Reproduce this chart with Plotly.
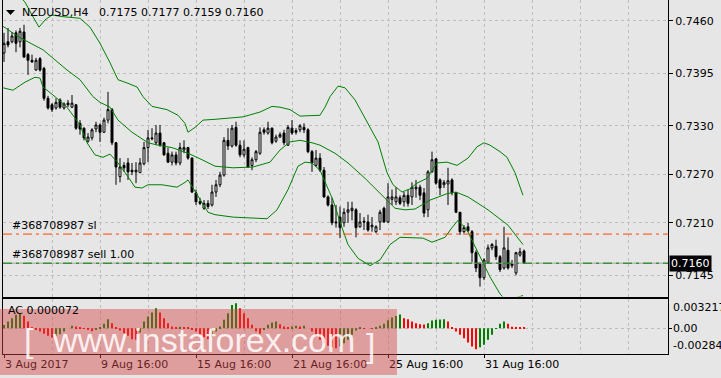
import plotly.graph_objects as go

W, H = 721, 378

# ---------------- data ----------------
opens = [0.7420,0.7434,0.7434,0.7445,0.7434,0.7446,0.7418,0.7411,0.7399,0.7413,
         0.7401,0.7364,0.7356,0.7352,0.7362,0.7352,0.7358,0.7353,0.7356,0.7333,
         0.7327,0.7311,0.7315,0.7326,0.7331,0.7322,0.7337,0.7350,0.7309,0.7267,
         0.7281,0.7284,0.7275,0.7273,0.7272,0.7283,0.7303,0.7315,0.7309,0.7321,
         0.7309,0.7296,0.7285,0.7294,0.7284,0.7300,0.7303,0.7290,0.7247,0.7236,
         0.7228,0.7234,0.7232,0.7248,0.7257,0.7269,0.7312,0.7305,0.7328,0.7306,
         0.7294,0.7303,0.7281,0.7288,0.7296,0.7325,0.7321,0.7327,0.7311,0.7316,
         0.7321,0.7306,0.7327,0.7324,0.7325,0.7328,0.7325,0.7298,0.7281,0.7290,
         0.7275,0.7242,0.7232,0.7211,0.7217,0.7210,0.7223,0.7225,0.7226,0.7205,
         0.7212,0.7211,0.7205,0.7199,0.7211,0.7228,0.7211,0.7239,0.7236,0.7241,
         0.7236,0.7244,0.7242,0.7252,0.7254,0.7247,0.7226,0.7273,0.7289,0.7263,
         0.7257,0.7258,0.7263,0.7247,0.7223,0.7199,0.7205,0.7199,0.7173,0.7160,
         0.7142,0.7161,0.7179,0.7181,0.7168,0.7154,0.7176,0.7157,0.7148,0.7170,
         0.7175]
highs = [0.7445,0.7451,0.7446,0.7448,0.7451,0.7455,0.7420,0.7418,0.7414,0.7415,
         0.7403,0.7367,0.7358,0.7364,0.7364,0.7359,0.7362,0.7368,0.7357,0.7337,
         0.7328,0.7321,0.7327,0.7335,0.7333,0.7340,0.7372,0.7352,0.7310,0.7290,
         0.7285,0.7290,0.7284,0.7285,0.7290,0.7310,0.7325,0.7327,0.7331,0.7331,
         0.7310,0.7303,0.7298,0.7298,0.7309,0.7312,0.7304,0.7291,0.7251,0.7241,
         0.7238,0.7238,0.7257,0.7263,0.7273,0.7316,0.7327,0.7331,0.7335,0.7312,
         0.7312,0.7304,0.7291,0.7300,0.7328,0.7328,0.7335,0.7328,0.7319,0.7322,
         0.7325,0.7331,0.7337,0.7327,0.7332,0.7333,0.7327,0.7300,0.7300,0.7296,
         0.7279,0.7244,0.7241,0.7232,0.7230,0.7228,0.7236,0.7236,0.7228,0.7222,
         0.7217,0.7220,0.7217,0.7207,0.7226,0.7230,0.7259,0.7251,0.7254,0.7244,
         0.7248,0.7251,0.7260,0.7263,0.7257,0.7253,0.7275,0.7298,0.7290,0.7265,
         0.7263,0.7278,0.7265,0.7248,0.7223,0.7207,0.7210,0.7201,0.7176,0.7161,
         0.7166,0.7183,0.7185,0.7189,0.7170,0.7205,0.7192,0.7164,0.7174,0.7179,
         0.7177]
lows = [0.7409,0.7427,0.7432,0.7421,0.7427,0.7414,0.7393,0.7408,0.7398,0.7397,
        0.7361,0.7350,0.7347,0.7350,0.7351,0.7350,0.7353,0.7352,0.7325,0.7319,
        0.7312,0.7309,0.7312,0.7322,0.7310,0.7321,0.7333,0.7306,0.7257,0.7260,
        0.7273,0.7263,0.7269,0.7259,0.7272,0.7281,0.7285,0.7312,0.7306,0.7304,
        0.7293,0.7284,0.7281,0.7281,0.7281,0.7296,0.7288,0.7247,0.7232,0.7232,
        0.7226,0.7227,0.7230,0.7242,0.7254,0.7267,0.7300,0.7303,0.7304,0.7291,
        0.7291,0.7278,0.7275,0.7285,0.7294,0.7319,0.7319,0.7307,0.7309,0.7315,
        0.7306,0.7305,0.7319,0.7319,0.7322,0.7321,0.7296,0.7273,0.7279,0.7273,
        0.7241,0.7230,0.7207,0.7204,0.7191,0.7205,0.7210,0.7213,0.7192,0.7204,
        0.7201,0.7199,0.7199,0.7197,0.7201,0.7210,0.7210,0.7232,0.7232,0.7232,
        0.7230,0.7230,0.7232,0.7241,0.7238,0.7217,0.7217,0.7272,0.7257,0.7244,
        0.7253,0.7232,0.7244,0.7222,0.7195,0.7197,0.7199,0.7161,0.7149,0.7131,
        0.7139,0.7160,0.7176,0.7164,0.7149,0.7152,0.7152,0.7154,0.7145,0.7168,
        0.7159]
closes = [0.7432,0.7430,0.7441,0.7432,0.7447,0.7415,0.7411,0.7409,0.7411,0.7399,
          0.7364,0.7352,0.7350,0.7359,0.7353,0.7357,0.7356,0.7358,0.7327,0.7326,
          0.7315,0.7316,0.7325,0.7331,0.7322,0.7337,0.7350,0.7309,0.7279,0.7279,
          0.7278,0.7273,0.7273,0.7275,0.7284,0.7303,0.7315,0.7314,0.7321,0.7306,
          0.7294,0.7285,0.7294,0.7284,0.7303,0.7303,0.7290,0.7248,0.7236,0.7234,
          0.7234,0.7230,0.7248,0.7257,0.7269,0.7312,0.7305,0.7327,0.7306,0.7294,
          0.7301,0.7279,0.7288,0.7298,0.7322,0.7322,0.7327,0.7309,0.7316,0.7319,
          0.7309,0.7328,0.7321,0.7322,0.7330,0.7325,0.7298,0.7284,0.7290,0.7275,
          0.7242,0.7232,0.7210,0.7210,0.7204,0.7223,0.7226,0.7228,0.7204,0.7211,
          0.7211,0.7201,0.7207,0.7205,0.7223,0.7211,0.7242,0.7242,0.7242,0.7234,
          0.7244,0.7234,0.7254,0.7254,0.7244,0.7222,0.7273,0.7288,0.7259,0.7253,
          0.7260,0.7262,0.7247,0.7223,0.7199,0.7204,0.7200,0.7173,0.7154,0.7142,
          0.7164,0.7179,0.7183,0.7168,0.7152,0.7179,0.7154,0.7159,0.7173,0.7174,
          0.7160]
bar_index = list(range(len(closes)))

# Bollinger bands (read at knots, bar-index units)
up_idx = [-0.25,4,5.25,7,8.75,10.25,12,14.75,19,21.5,24,26.5,28.5,30.75,33.25,34.75,37,40.75,
          43.5,45.25,46,47.75,49.75,52.75,57.25,59.75,64,67,69,71.5,74,79,80.25,81.5,83.5,
          85.25,87.75,90.25,92,93.5,95.75,97.25,99.5,101.5,103.25,105.75,108.25,110.75,
          113.25,116,118.25,120,121.5,124,125.75,127.75,129.75]
up_val = [0.7510,0.7489,0.7483,0.7467,0.7452,0.7461,0.7467,0.7465,0.7463,0.7452,0.7432,0.7408,
          0.7387,0.7383,0.7378,0.7366,0.7354,0.7350,0.7343,0.7333,0.7322,0.7328,0.7337,0.7338,
          0.7340,0.7341,0.7347,0.7354,0.7353,0.7350,0.7342,0.7343,0.7353,0.7366,0.7379,0.7377,
          0.7362,0.7340,0.7325,0.7310,0.7272,0.7257,0.7248,0.7252,0.7259,0.7265,0.7284,0.7285,
          0.7281,0.7290,0.7304,0.7309,0.7306,0.7298,0.7291,0.7272,0.7244]
mid_idx = [-0.25,4,9.75,15.75,19,22.25,24,26.5,28.5,32,36,38.5,42,46,49.5,52.75,57.25,62.25,
           66.5,69,71.5,74,77,79,82.75,86,90.25,94.5,97.75,100.25,102.75,106.5,110.75,113,
           116,121,126,129.75]
mid_val = [0.7453,0.7439,0.7424,0.7399,0.7387,0.7366,0.7359,0.7353,0.7337,0.7322,0.7309,0.7306,
           0.7303,0.7296,0.7288,0.7280,0.7278,0.7279,0.7285,0.7300,0.7310,0.7312,0.7309,0.7306,
           0.7296,0.7284,0.7265,0.7244,0.7228,0.7226,0.7227,0.7238,0.7246,0.7248,0.7242,0.7226,
           0.7207,0.7183]
lo_idx = [-0.25,2.25,5.25,7.75,9,9.75,12.75,15.75,19,20.75,22.75,24.75,26.5,28.5,31,32.75,34.5,
          36,39.5,43.25,45.25,46,47.25,49.5,51,52.75,57.25,65.75,68.25,71,73.5,75.25,77,79,
          80.75,82.25,84.5,86,88.5,91.5,94,96.5,99,104.75,107,110.25,112,113.5,115.75,118.25,
          121.5,124,125.5,127.25,129.75]
lo_val = [0.7377,0.7374,0.7384,0.7390,0.7389,0.7378,0.7366,0.7353,0.7331,0.7309,0.7294,0.7291,
          0.7295,0.7284,0.7267,0.7254,0.7253,0.7257,0.7257,0.7254,0.7260,0.7263,0.7253,0.7236,
          0.7223,0.7220,0.7217,0.7215,0.7226,0.7251,0.7280,0.7285,0.7284,0.7275,0.7254,0.7238,
          0.7204,0.7183,0.7166,0.7157,0.7164,0.7183,0.7192,0.7191,0.7186,0.7192,0.7204,0.7213,
          0.7201,0.7176,0.7143,0.7122,0.7114,0.7116,0.7120]

# Accelerator oscillator
ac = [0.00036,0.00073,0.0011,0.00147,0.00165,0.00136,0.00073,0.0001,-0.00018,-0.00037,
      -0.00062,-0.00084,-0.00103,-0.00092,-0.00066,-0.00037,0.0,0.00026,0.00018,0.00007,
      -0.00007,-0.00018,-0.00033,-0.00011,0.00011,0.00048,0.00099,0.00055,0.00011,-0.00026,
      -0.00055,-0.00084,-0.00121,-0.00128,-0.00048,0.00073,0.00128,0.00172,0.0022,0.00172,
      0.0011,0.00055,0.00018,0.00011,0.00015,0.00007,0.00004,-0.00011,-0.00037,-0.00066,
      -0.00099,-0.00121,-0.00092,-0.00037,0.00018,0.00092,0.00165,0.00257,0.00275,0.0022,
      0.00165,0.0011,0.00037,-0.00037,-0.00062,-0.00011,0.00037,0.00062,0.00073,0.00044,
      0.00018,0.00011,0.00018,0.00026,0.00018,0.00026,0.0,-0.00037,-0.00092,-0.00128,
      -0.00165,-0.00194,-0.00209,-0.0022,-0.00202,-0.00165,-0.00128,-0.00073,-0.00026,0.00004,
      0.00002,0.0,-0.00002,0.00007,0.00026,0.00048,0.00088,0.00117,0.00135,0.0015,
      0.0011,0.00099,0.00073,0.00055,0.00044,0.0004,0.00055,0.00084,0.00092,0.00095,
      0.00099,0.00073,0.00011,-0.00037,-0.00073,-0.0011,-0.00158,-0.00202,-0.00231,-0.00209,
      -0.00183,-0.00128,-0.00073,-0.00004,0.00048,0.00073,0.00048,0.00015,0.00011,0.00009,
      0.000072]
ac_top, ac_bottom = 0.003217, -0.00284

price_ticks = [0.7145, 0.7210, 0.7270, 0.7330, 0.7395, 0.7460]
date_pos = [0, 24, 48, 72, 96, 120]
date_labels = ["3 Aug 2017", "9 Aug 16:00", "15 Aug 16:00", "21 Aug 16:00",
               "25 Aug 16:00", "31 Aug 16:00"]

symbol = "NZDUSD,H4"
sl_price = 0.7196
sell_price = 0.7160
order_id = "#368708987"

# ---------------- styling ----------------
BG = "#E6E6E6"
GRID = "#BEBEBE"
FONT = "DejaVu Sans"
GREEN = "#008000"

def px_x(p):
    return p / W

def px_y(p):
    return 1 - p / H

xdom = [px_x(3), px_x(668)]
xr = [-0.25, 166.0]

fig = go.Figure()

fig.add_trace(go.Candlestick(
    x=bar_index, open=opens, high=highs, low=lows, close=closes,
    increasing=dict(line=dict(color="black", width=1), fillcolor="white"),
    decreasing=dict(line=dict(color="black", width=1), fillcolor="black"),
    whiskerwidth=0, hoverinfo="skip", xaxis="x", yaxis="y"))

for bx, by in ((up_idx, up_val), (mid_idx, mid_val), (lo_idx, lo_val)):
    fig.add_trace(go.Scatter(x=bx, y=by, mode="lines",
                             line=dict(color=GREEN, width=1),
                             hoverinfo="skip", xaxis="x", yaxis="y"))

ac_colors = [GREEN if i == 0 or ac[i] > ac[i - 1] else "#FF0000" for i in range(len(ac))]
fig.add_trace(go.Bar(x=bar_index, y=ac, width=0.27, marker=dict(color=ac_colors, line=dict(width=0)),
                     hoverinfo="skip", xaxis="x2", yaxis="y2"))

grid_kw = dict(gridcolor=GRID, griddash="3px,3px", gridwidth=1)

fig.update_layout(
    width=W, height=H,
    margin=dict(l=0, r=0, t=0, b=0),
    paper_bgcolor=BG, plot_bgcolor=BG,
    showlegend=False,
    font=dict(family=FONT, size=11, color="black"),
    xaxis=dict(domain=xdom, range=xr, anchor="y", showticklabels=False, ticks="",
               tick0=0, dtick=12, showgrid=True, **grid_kw, zeroline=False,
               showline=True, linecolor="black", linewidth=1, mirror=True,
               rangeslider=dict(visible=False)),
    yaxis=dict(domain=[px_y(296.5), 1], range=[0.711878, 0.748561], anchor="x", side="right",
               tickvals=price_ticks, ticktext=[f"{v:.4f}" for v in price_ticks],
               ticks="outside", ticklen=4, tickcolor="black",
               tickfont=dict(family=FONT, size=11, color="black"),
               showgrid=True, **grid_kw, zeroline=False,
               showline=True, linecolor="black", linewidth=1, mirror=True),
    xaxis2=dict(domain=xdom, range=xr, anchor="y2",
                tickvals=date_pos, ticktext=date_labels, ticks="outside", ticklen=3,
                tickcolor="black", ticklabelposition="outside right",
                tickfont=dict(family=FONT, size=11, color="black"),
                showgrid=True, **grid_kw, zeroline=False,
                minor=dict(tick0=0, dtick=12, showgrid=True, ticks="", **grid_kw),
                showline=True, linecolor="black", linewidth=1, mirror=True),
    yaxis2=dict(domain=[px_y(354), px_y(299)], range=[ac_bottom, ac_top], anchor="x2", side="right",
                tickvals=[0], showticklabels=False, ticks="outside", ticklen=3, tickcolor="black",
                showgrid=True, **grid_kw, zeroline=False,
                showline=True, linecolor="black", linewidth=1, mirror=True),
)

shapes = []
# bid line (solid grey) and order lines
shapes.append(dict(type="line", xref="paper", yref="y", x0=xdom[0], x1=xdom[1],
                   y0=sell_price, y1=sell_price, line=dict(color="#A0A0A0", width=1)))
shapes.append(dict(type="line", xref="paper", yref="y", x0=xdom[0], x1=xdom[1],
                   y0=sell_price, y1=sell_price,
                   line=dict(color=GREEN, width=1, dash="9px,4px,3px,4px")))
shapes.append(dict(type="line", xref="paper", yref="y", x0=xdom[0], x1=xdom[1],
                   y0=sl_price, y1=sl_price,
                   line=dict(color="#FF4500", width=1, dash="9px,4px,3px,4px")))
# small triangle of the symbol menu
shapes.append(dict(type="path", xref="paper", yref="paper",
                   path=f"M {px_x(6)} {px_y(10)} L {px_x(15)} {px_y(10)} L {px_x(10.5)} {px_y(15)} Z",
                   fillcolor="black", line=dict(width=0)))
# watermark band
shapes.append(dict(type="rect", xref="paper", yref="paper", x0=0, x1=px_x(397),
                   y0=px_y(375), y1=px_y(309), fillcolor="rgba(215,70,70,0.45)",
                   line=dict(width=0), layer="above"))
fig.update_layout(shapes=shapes)

ann = []
ann.append(dict(xref="paper", yref="paper", x=px_x(20), y=px_y(12), xanchor="left", yanchor="middle",
                text=symbol + "\u00a0\u00a0\u00a0" + " ".join(f"{v:.4f}" for v in
                     (opens[-1], highs[-1], lows[-1], closes[-1])),
                showarrow=False, font=dict(family=FONT, size=11, color="black")))
ann.append(dict(xref="paper", yref="y", x=px_x(10), y=sl_price, xanchor="left", yanchor="bottom",
                text=order_id + " sl", showarrow=False, yshift=0,
                font=dict(family=FONT, size=11, color="black")))
ann.append(dict(xref="paper", yref="y", x=px_x(10), y=sell_price, xanchor="left", yanchor="bottom",
                text=order_id + " sell 1.00", showarrow=False, yshift=0,
                font=dict(family=FONT, size=11, color="black")))
ann.append(dict(xref="paper", yref="y", x=px_x(669), y=closes[-1], xanchor="left", yanchor="middle",
                text=f"{closes[-1]:.4f}", showarrow=False, bgcolor="black", borderpad=1,
                font=dict(family=FONT, size=11, color="white")))
ann.append(dict(xref="paper", yref="paper", x=px_x(6), y=px_y(310), xanchor="left", yanchor="middle",
                text=f"AC {ac[-1]:.6f}", showarrow=False,
                font=dict(family=FONT, size=11, color="black")))
ann.append(dict(xref="paper", yref="y2", x=px_x(671), y=ac_top, xanchor="left", yanchor="top",
                text=f"{ac_top:.6f}", showarrow=False, font=dict(family=FONT, size=11, color="black")))
ann.append(dict(xref="paper", yref="y2", x=px_x(671), y=0, xanchor="left", yanchor="middle",
                text="0.00", showarrow=False, font=dict(family=FONT, size=11, color="black")))
ann.append(dict(xref="paper", yref="y2", x=px_x(671), y=ac_bottom, xanchor="left", yanchor="bottom",
                text=f"{ac_bottom:.5f}", showarrow=False, font=dict(family=FONT, size=11, color="black")))
# watermark text
WM = "rgba(255,255,255,0.85)"
ann.append(dict(xref="paper", yref="paper", x=px_x(22), y=px_y(340), xanchor="left", yanchor="middle",
                text="[", showarrow=False, font=dict(family="Liberation Sans", size=34, color=WM)))
ann.append(dict(xref="paper", yref="paper", x=px_x(50), y=px_y(340), xanchor="left", yanchor="middle",
                text="www.instaforex.com", showarrow=False,
                font=dict(family="Liberation Sans", size=34, color=WM)))
ann.append(dict(xref="paper", yref="paper", x=px_x(364), y=px_y(345), xanchor="left", yanchor="middle",
                text="]", showarrow=False, font=dict(family="Liberation Sans", size=34, color=WM)))
fig.update_layout(annotations=ann)

fig.write_html("out.html")
